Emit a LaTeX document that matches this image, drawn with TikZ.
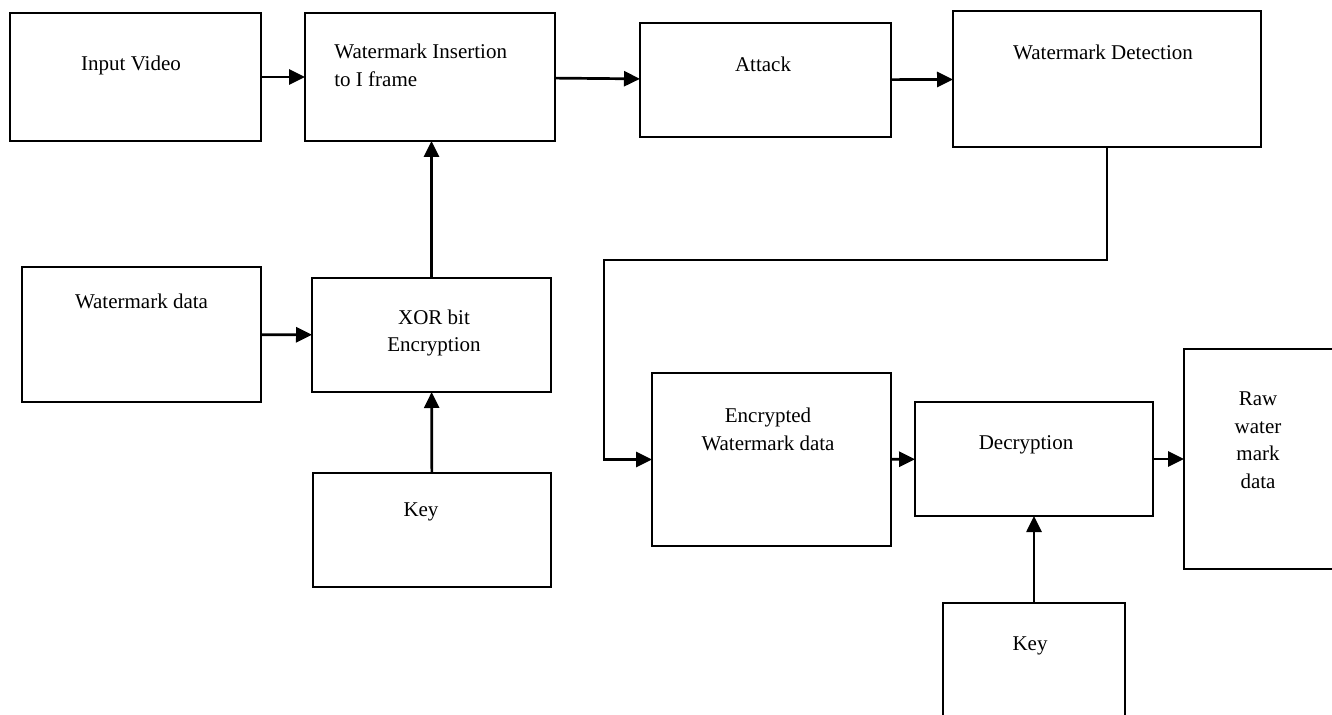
\documentclass[tikz,border=0pt]{standalone}
\usepackage{fontspec}
\setmainfont{Liberation Serif}
\usetikzlibrary{arrows.meta}

\begin{document}
\begin{tikzpicture}[x=0.5pt, y=-0.5pt, >={Triangle[length=8pt,width=7.5pt]}, font=\fontsize{10.5}{13.75}\selectfont]
    \tikzstyle{block}=[draw=black, line width=0.9pt, inner sep=0pt, outer sep=0pt]
    \tikzstyle{block text}=[inner sep=0pt, align=center]
    \tikzstyle{flow}=[->, line width=1.35pt]

    \clip (0,0) rectangle (1332,715);

    % Draw the embedding row
    \node[block, minimum width=125.5pt, minimum height=64pt] (inp) at (135.5,77) {};
    \node[block, minimum width=125pt, minimum height=64pt] (ins) at (430,77) {};
    \node[block, minimum width=125.5pt, minimum height=57pt] (att) at (765.5,80) {};
    \node[block, minimum width=154pt, minimum height=68pt] (det) at (1107,79) {};

    % Draw the encryption blocks
    \node[block, minimum width=119.5pt, minimum height=67.5pt] (wmd) at (141.5,334.5) {};
    \node[block, minimum width=119.5pt, minimum height=57pt] (xor) at (431.5,335) {};
    \node[block, minimum width=119pt, minimum height=57pt] (key1) at (432,530) {};

    % Draw the extraction blocks
    \node[block, minimum width=119.5pt, minimum height=86.5pt] (enc) at (771.5,459.5) {};
    \node[block, minimum width=119pt, minimum height=57pt] (dec) at (1034,459) {};
    \node[block, minimum width=78pt, minimum height=110pt] (raw) at (1262,459) {};
    \node[block, minimum width=91pt, minimum height=61pt] (key2) at (1034,664) {};

    % Texts of the blocks
    \node[block text] (inp-t) at (131,65) {Input Video};
    \node[block text, align=left, anchor=west] (ins-t) at (334,65.5) {Watermark Insertion\\to I frame};
    \node[block text] (att-t) at (763,64) {Attack};
    \node[block text] (det-t) at (1103,52) {Watermark Detection};
    \node[block text] (wmd-t) at (141.5,301) {Watermark data};
    \node[block text] (xor-t) at (434,333) {XOR bit\\Encryption};
    \node[block text] (key1-t) at (421,512) {Key};
    \node[block text] (enc-t) at (768,429.5) {Encrypted\\Watermark data};
    \node[block text] (dec-t) at (1026,445) {Decryption};
    \node[block text] (raw-t) at (1258,440) {Raw\\water\\mark\\data};
    \node[block text] (key2-t) at (1030,646) {Key};

    % Connect the blocks
    \draw[flow] (inp) -- (ins);
    \draw[flow] (ins) -- (att);
    \draw[flow] (att) -- (det);
    \draw[flow] (wmd) -- (xor);
    \draw[flow] (xor.north) -- (xor.north |- ins.south);
    \draw[flow] (key1) -- (xor);

    % Route the detected data back to the lower row
    \coordinate (turn) at (604,260);
    \draw[flow] (det.south) |- (turn) |- (enc.west);
    \draw[flow] (enc) -- (dec);
    \draw[flow] (dec) -- (raw);
    \draw[flow] (key2) -- (dec);

\end{tikzpicture}
\end{document}
